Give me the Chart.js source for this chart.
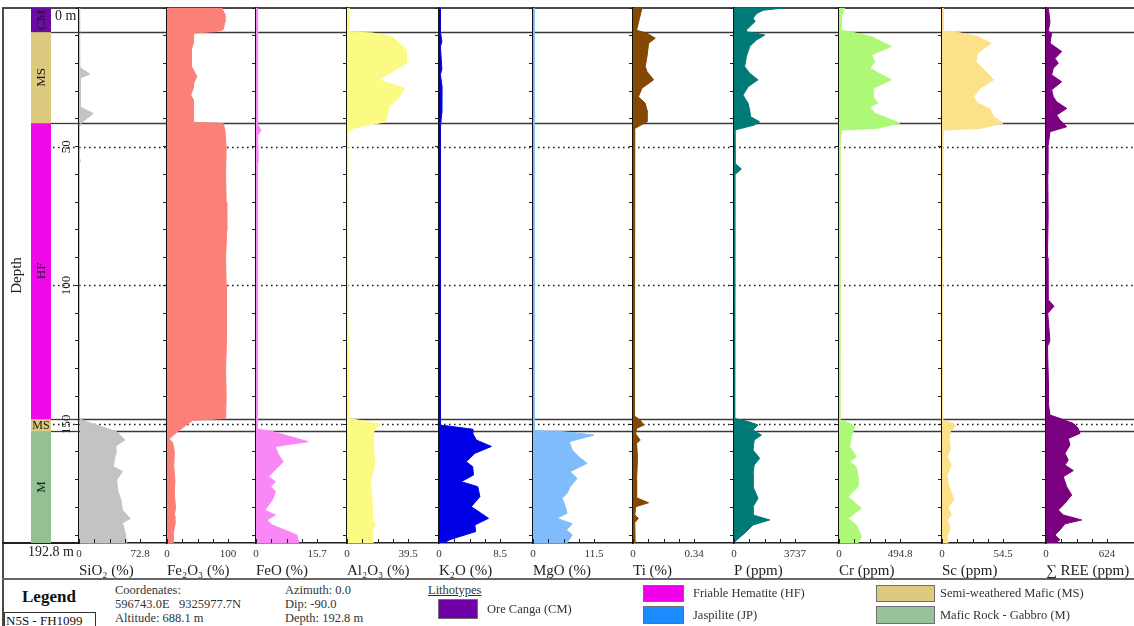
<!DOCTYPE html>
<html lang="en">
<head>
<meta charset="utf-8">
<title>N5S - FH1099</title>
<script src="https://cdn.jsdelivr.net/npm/chart.js@4.4.1/dist/chart.umd.min.js"></script>
<style>
  html, body { margin: 0; padding: 0; background: #fff; }
  #fig { position: relative; width: 1134px; height: 626px; overflow: hidden;
         font-family: "Liberation Serif", "DejaVu Serif", serif; color: #222; }
  #fig canvas { position: absolute; top: 0; }
  .rule { position: absolute; background: #4a4a4a; }
  .txt { position: absolute; white-space: nowrap; font-size: 12.5px; line-height: 14px; color: #333; }
  .sw { position: absolute; border: 1px solid #707070; box-sizing: border-box; }
</style>
</head>
<body>
<div id="fig">
  <div class="rule" style="left:2px;top:7px;width:1132px;height:2px;"></div>
  <div class="rule" style="left:2px;top:7px;width:2px;height:619px;"></div>
  <div class="rule" style="left:2px;top:542px;width:78px;height:2px;background:#222;"></div>
  <div class="rule" style="left:2px;top:578px;width:1132px;height:2px;background:#666;"></div>

  <div class="txt" style="left:22px;top:587px;font-size:17px;line-height:19px;font-weight:bold;color:#111;">Legend</div>
  <div class="txt" style="left:4px;top:612px;width:92px;height:17px;border:1px solid #333;box-sizing:border-box;font-size:13px;line-height:15px;padding-left:1px;color:#111;">N5S - FH1099</div>

  <div class="txt" style="left:115px;top:583px;">Coordenates:</div>
  <div class="txt" style="left:115px;top:597px;">596743.0E&nbsp;&nbsp;&nbsp;9325977.7N</div>
  <div class="txt" style="left:115px;top:611px;">Altitude: 688.1 m</div>
  <div class="txt" style="left:285px;top:583px;">Azimuth: 0.0</div>
  <div class="txt" style="left:285px;top:597px;">Dip: -90.0</div>
  <div class="txt" style="left:285px;top:611px;">Depth: 192.8 m</div>
  <div class="txt" style="left:428px;top:583px;text-decoration:underline;">Lithotypes</div>
</div>
<script>
// ---- depth log data (m) ----
const TOTAL_DEPTH = 192.8;
const LITHO_CODES = ['CM', 'MS', 'HF', 'MS', 'M'];
const LITHO_TOP   = [0, 8.6, 41.4, 148.1, 152.4];
const LITHO_BASE  = [8.6, 41.4, 148.1, 152.4, 192.8];
const DEPTH_MARKS = [50, 100, 150];

const VAR_TITLES = ['SiO₂ (%)', 'Fe₂O₃ (%)', 'FeO (%)', 'Al₂O₃ (%)', 'K₂O (%)', 'MgO (%)',
                    'Ti (%)', 'P (ppm)', 'Cr (ppm)', 'Sc (ppm)', '∑ REE (ppm)'];
const VAR_MAX = [72.8, 100, 15.7, 39.5, 8.5, 11.5, 0.34, 3737, 494.8, 54.5, 624];

const SIO2_DEPTH = [0, 8.6, 20, 21.6, 23.8, 25.2, 35.7, 38, 41.4, 43, 54, 55, 56, 60, 147.9, 149, 152.7, 155.7, 158, 160.5, 163, 165.3, 167, 170, 173.7, 177.3, 181, 184, 185.6, 189.2, 192.8];
const SIO2 = [0.3, 0.6, 1, 1.5, 13, 1.5, 1.5, 17, 2.5, 0.5, 0.3, 1.8, 0.3, 0.2, 0.2, 8, 45, 55, 43, 44, 42, 41, 52, 45, 46, 50, 52, 61, 52, 55, 57];

const FE2O3_DEPTH = [0, 2, 5, 7.8, 8.5, 9, 12.7, 15, 21, 24.7, 27, 28.9, 31.4, 33, 37, 41.2, 41.6, 44, 50, 60, 70, 80, 90, 100, 110, 120, 130, 140, 147.9, 148.6, 152.5, 155.3, 156.5, 160, 165, 170, 175, 180, 183, 186, 190, 192.8];
const FE2O3 = [90, 94, 95, 92, 80, 44, 43, 40, 40, 49, 44, 43, 39, 43, 43, 44, 92, 95, 97, 96, 97, 98, 96, 97, 98, 97, 96, 97, 96, 42, 18, 3, 9, 12, 11, 13, 12, 14, 12, 13, 10, 10];

const FEO_DEPTH = [0, 8.6, 20, 35, 42, 44, 46, 55, 57, 75, 100, 130, 151.7, 152.7, 156.3, 158, 161, 163.5, 165.9, 168.9, 170.7, 172.5, 174.3, 177.3, 181, 182.7, 184.5, 186.3, 189.9, 192.8];
const FEO = [0.4, 0.3, 0.4, 0.4, 0.5, 1.3, 0.4, 0.6, 0.3, 0.3, 0.3, 0.3, 0.3, 4.4, 13.5, 4.9, 5.8, 7, 5.3, 3.2, 5, 3.8, 5, 4.2, 2.3, 5, 2.8, 4.2, 10.5, 11];

const AL2O3_DEPTH = [0, 8.6, 9, 10.3, 12.1, 15.1, 19.9, 23.5, 25.9, 28.9, 32, 35.6, 38.6, 41, 43.4, 45, 100, 147.9, 150, 151.5, 152.7, 158, 164, 171.3, 177, 183.9, 186.3, 188.7, 192.8];
const AL2O3 = [1.2, 1.2, 16.6, 29.3, 32.5, 38.5, 38.5, 27.5, 20.7, 37.4, 34, 27.5, 26, 25, 3.5, 0.5, 0.4, 1.3, 21.6, 18.4, 17.4, 17, 18, 15.2, 16.2, 16.2, 18.4, 16.2, 17];

const K2O_DEPTH = [0, 8.6, 12, 14, 22, 24, 28, 33, 38, 43, 100, 150.3, 151.8, 153.3, 155.7, 158, 160.5, 163.5, 165.3, 168.3, 170.7, 172.5, 176.1, 179.7, 183.9, 186.3, 188.7, 191.6, 192.8];
const K2O = [0.2, 0.2, 0.4, 0.2, 0.4, 0.2, 0.4, 0.35, 0.4, 0.2, 0.15, 0.2, 4.7, 4.7, 5.2, 7.3, 5, 3.8, 4.7, 4.8, 3.1, 5.4, 5.7, 4.5, 6.9, 5, 5.1, 1.5, 0.7];

const MGO_DEPTH = [0, 100, 152.3, 152.7, 153.9, 156.3, 159.3, 161.7, 164.1, 167.1, 169.5, 172.5, 174.9, 176.7, 179.7, 182.1, 183.9, 185.9, 188.1, 189.9, 192.8];
const MGO = [0.2, 0.2, 0.2, 5.8, 11.5, 6.8, 7.4, 8.6, 10.2, 7, 8.3, 7, 6.4, 5.5, 6.1, 6.4, 4.5, 7.4, 6.3, 7.4, 6.4];

const TI_DEPTH = [0, 4, 8, 9.1, 10.9, 12.7, 17.5, 21.1, 22.9, 25.9, 28.9, 32, 34.3, 36.8, 41, 43.4, 100, 147, 148.5, 150.3, 151.5, 153.5, 155.7, 157, 162, 170, 176.5, 178.3, 179.7, 182.7, 183.9, 185.5, 192.8];
const TI = [0.05, 0.035, 0.02, 0.078, 0.124, 0.087, 0.078, 0.068, 0.078, 0.115, 0.05, 0.03, 0.068, 0.078, 0.078, 0.01, 0.008, 0.008, 0.04, 0.06, 0.02, 0.015, 0.04, 0.02, 0.025, 0.02, 0.02, 0.087, 0.015, 0.01, 0.03, 0.01, 0.012];

const P_DEPTH = [0, 0.8, 2, 3.7, 4.8, 6.1, 7.9, 8.6, 9.1, 9.7, 11.5, 13.9, 17.5, 21.1, 23.5, 25.9, 28.4, 31.4, 34.3, 36.8, 39.2, 41, 42.2, 44, 56, 58, 60, 100, 147.9, 149.2, 150.3, 152.1, 153.9, 155.7, 159.3, 162.3, 164.7, 167.7, 172.5, 176.7, 179.7, 182.7, 184.5, 186.3, 189.3, 192.3, 192.8];
const P = [3017, 1786, 1390, 1165, 1300, 1080, 760, 760, 1380, 1890, 1380, 960, 760, 650, 960, 1470, 860, 550, 860, 960, 1020, 1570, 1235, 40, 60, 450, 60, 50, 30, 960, 1470, 1165, 1680, 1235, 1165, 1575, 1235, 1165, 1165, 1470, 1165, 1165, 2190, 1165, 650, 50, 40];

const CR_DEPTH = [0, 3, 8, 8.8, 10.3, 13.9, 16.9, 19.3, 21.7, 25.9, 28.9, 32, 34.3, 35.6, 37.9, 41.5, 43.4, 44, 50, 100, 148, 148.5, 149.4, 150.8, 152.7, 154.5, 158.1, 159.9, 161.7, 163.5, 165.3, 168.9, 172.5, 176.1, 180.3, 183.9, 186.3, 190.5, 192.8];
const CR = [46, 19, 19, 114, 263, 425, 263, 290, 250, 425, 276, 276, 316, 250, 290, 494.8, 303, 20, 8, 6, 8, 11, 73, 127, 114, 100, 87, 114, 141, 87, 141, 154, 154, 73, 182, 73, 141, 182, 154];

const SC_DEPTH = [0, 8.3, 8.5, 10.3, 12.7, 16.3, 19.3, 25.9, 28.9, 32, 34.3, 36.2, 39.2, 41.5, 43.4, 44, 100, 148.5, 149.7, 150.8, 152.7, 155.7, 159.3, 161.7, 164.7, 168.3, 171.3, 177.3, 179.7, 182.7, 184.5, 187.4, 190.5, 192.8];
const SC = [1.5, 1, 10.6, 31.8, 43.9, 31.8, 30.3, 46.1, 34.2, 28.1, 31.8, 42.4, 46.1, 54.5, 34, 1, 0.4, 0.5, 10.6, 11.9, 7.4, 6.5, 7.4, 4.5, 8.3, 4.5, 5.4, 10.6, 5.4, 8.3, 4.5, 7.4, 4.5, 5.4];

const REE_DEPTH = [0, 5, 8.3, 9.1, 12.7, 15.7, 18.2, 19.9, 21.7, 24.1, 26.6, 29.5, 32, 33.8, 36.2, 38.6, 40.4, 42.8, 44.6, 50, 60, 75, 90, 105, 107.5, 110, 120, 122, 135, 142.5, 146.7, 147.9, 149.7, 151.5, 153.3, 155.1, 157.5, 160.5, 162.9, 164.7, 166.7, 168.9, 172.5, 175.5, 178.5, 180.9, 182.7, 184.5, 185.9, 188.1, 189.9, 191.6, 192.8];
const REE = [24, 41, 24, 58, 41, 160, 92, 126, 75, 58, 160, 58, 75, 109, 212, 109, 143, 212, 41, 20, 18, 22, 15, 20, 82, 18, 40, 15, 25, 24, 41, 143, 280, 330, 348, 228, 245, 194, 228, 194, 280, 177, 211, 263, 194, 126, 177, 365, 194, 143, 92, 143, 100];

const LEGEND_NAMES = ['Ore Canga (CM)', 'Friable Hematite (HF)', 'Jaspilite (JP)',
                      'Semi-weathered Mafic (MS)', 'Mafic Rock - Gabbro (M)'];

// ---- styling and layout ----
const FONT = '"Liberation Serif", "DejaVu Serif", serif';
const LITHO_COLORS = { CM: '#6c0aa8', MS: '#dccb7e', HF: '#ee0ae8', M: '#93c194' };
const LEGEND_COLORS = ['#6e00a6', '#f000e8', '#1a8cff', '#dccb7e', '#98c39a'];
const LEGEND_BOX = [[438, 599, 40, 20], [643, 585, 41, 17], [643, 606, 41, 18], [876, 585, 59, 17], [876, 606, 59, 18]];
const LEGEND_TEXT_AT = [[487, 602], [693, 586], [693, 608], [940, 586], [940, 608]];
const SERIES_COLORS = ['#c3c3c3', '#fb8078', '#f987f5', '#fbfb84', '#0000e6', '#80bcfb',
                       '#844800', '#007a76', '#adf977', '#fde189', '#7b007f'];
const PANEL_X = [79, 167, 256, 347, 439, 533, 633, 734, 839, 942, 1046, 1134];
const PLOT_TOP = 8, PLOT_BOTTOM = 543, CANVAS_H = 585, TICK_SPAN = 61;
const AXIS_BOX = 12;   // room left of each panel for the depth ticks (and label overhang)

const SERIES = [[SIO2_DEPTH, SIO2], [FE2O3_DEPTH, FE2O3], [FEO_DEPTH, FEO], [AL2O3_DEPTH, AL2O3],
                [K2O_DEPTH, K2O], [MGO_DEPTH, MGO], [TI_DEPTH, TI], [P_DEPTH, P],
                [CR_DEPTH, CR], [SC_DEPTH, SC], [REE_DEPTH, REE]];

const fig = document.getElementById('fig');

function makeCanvas(left, width) {
  const c = document.createElement('canvas');
  c.width = width; c.height = CANVAS_H;
  c.style.left = left + 'px';
  c.style.width = width + 'px';
  c.style.height = CANVAS_H + 'px';
  fig.appendChild(c);
  return c;
}

const BOUNDARIES = LITHO_BASE.slice(0, -1);

// contact lines (solid) and depth marks (dotted) between x0 and x1
function drawDepthLines(chart, x0, x1, dotStart) {
  const { ctx, scales: { y } } = chart;
  ctx.save();
  ctx.strokeStyle = '#3a3a3a';
  ctx.lineWidth = 1.3;
  BOUNDARIES.forEach(d => {
    const py = Math.round(y.getPixelForValue(d)) + 0.5;
    ctx.beginPath(); ctx.moveTo(x0, py); ctx.lineTo(x1, py); ctx.stroke();
  });
  ctx.strokeStyle = '#1e1e1e';
  ctx.lineWidth = 1.4;
  ctx.setLineDash([1.6, 3.4]);
  DEPTH_MARKS.forEach(d => {
    const py = Math.round(y.getPixelForValue(d)) + 0.5;
    ctx.beginPath(); ctx.moveTo(dotStart, py); ctx.lineTo(x1, py); ctx.stroke();
  });
  ctx.restore();
}

const panelLines = {
  id: 'panelLines',
  beforeDatasetsDraw(chart) {
    const a = chart.chartArea;
    drawDepthLines(chart, a.left, a.right, a.left);
  }
};

// small tick marks pointing into the plot along the value axis
const innerTicks = {
  id: 'innerTicks',
  afterDraw(chart) {
    const { ctx, scales: { x } } = chart;
    ctx.save();
    ctx.strokeStyle = '#222';
    ctx.lineWidth = 1;
    x.ticks.forEach(t => {
      const px = Math.round(x.getPixelForValue(t.value)) + 0.5;
      ctx.beginPath(); ctx.moveTo(px, x.top); ctx.lineTo(px, x.top - 4); ctx.stroke();
    });
    ctx.restore();
  }
};

function fmt(v) { return String(v); }

// one depth profile per variable
SERIES.forEach(([depths, values], i) => {
  const left = PANEL_X[i], width = PANEL_X[i + 1] - left;
  const canvas = makeCanvas(left - AXIS_BOX, width + AXIS_BOX);
  const max = VAR_MAX[i];
  new Chart(canvas, {
    type: 'line',
    data: {
      datasets: [{
        data: depths.map((d, k) => ({ x: values[k], y: d })),
        backgroundColor: SERIES_COLORS[i],
        borderColor: SERIES_COLORS[i],
        borderWidth: 1,
        pointRadius: 0,
        tension: 0,
        fill: 'origin'
      }]
    },
    options: {
      indexAxis: 'y',
      responsive: false,
      animation: false,
      events: [],
      layout: { padding: { top: PLOT_TOP, left: 0, right: 0, bottom: 0 } },
      plugins: { legend: { display: false }, tooltip: { enabled: false } },
      scales: {
        x: {
          type: 'linear', position: 'bottom',
          min: 0, max: max * width / TICK_SPAN,
          afterBuildTicks: s => { s.ticks = [0, 1, 2, 3, 4].map(k => ({ value: max * k / 4 })); },
          afterFit: s => { s.height = CANVAS_H - PLOT_BOTTOM; },
          grid: { display: true, drawOnChartArea: false, drawTicks: false },
          border: { display: true, color: '#1e1e1e', width: 1.5 },
          ticks: {
            autoSkip: false, maxRotation: 0, padding: 5,
            color: '#333', font: { family: FONT, size: 11 },
            callback: (v, k) => (k === 0 ? '0' : k === 4 ? fmt(max) : '')
          },
          title: {
            display: true, text: VAR_TITLES[i], align: 'start',
            color: '#222', font: { family: FONT, size: 15 },
            padding: { top: 0, bottom: 5 }
          }
        },
        y: {
          type: 'linear', reverse: true, min: 0, max: TOTAL_DEPTH,
          afterBuildTicks: s => {
            const t = [];
            for (let d = 0; d < TOTAL_DEPTH; d += 10) t.push({ value: d });
            s.ticks = t;
          },
          afterFit: s => { s.width = AXIS_BOX; },
          ticks: { display: false },
          grid: { drawOnChartArea: false, drawTicks: true, tickLength: 4, color: '#222' },
          border: { display: true, color: '#111', width: 1.5 }
        }
      }
    },
    plugins: [panelLines, innerTicks]
  });
});

// lithology column with depth labels
const lithoLabels = {
  id: 'lithoLabels',
  beforeDatasetsDraw(chart) {
    const a = chart.chartArea;
    drawDepthLines(chart, a.right, chart.width, a.right + 2);
  },
  afterDraw(chart) {
    const { ctx, chartArea: a, scales: { y } } = chart;
    ctx.save();
    ctx.fillStyle = '#1a1a1a';
    ctx.textAlign = 'center';
    ctx.textBaseline = 'middle';
    const cx = (a.left + a.right) / 2;
    LITHO_CODES.forEach((code, k) => {
      const y0 = y.getPixelForValue(LITHO_TOP[k]);
      const y1 = y.getPixelForValue(LITHO_BASE[k]);
      const cy = (y0 + y1) / 2;
      if (y1 - y0 < 18) {
        ctx.font = '12px ' + FONT;
        ctx.fillText(code, cx, cy + 0.5);
      } else {
        ctx.save();
        ctx.translate(cx + 0.5, cy);
        ctx.rotate(-Math.PI / 2);
        ctx.font = '13px ' + FONT;
        ctx.fillText(code, 0, 0);
        ctx.restore();
      }
    });
    ctx.fillStyle = '#222';
    ctx.font = '13px ' + FONT;
    DEPTH_MARKS.forEach(d => {
      ctx.save();
      ctx.translate(67, y.getPixelForValue(d));
      ctx.rotate(-Math.PI / 2);
      ctx.fillText(String(d), 0, 0);
      ctx.restore();
    });
    ctx.font = '14px ' + FONT;
    ctx.textAlign = 'left';
    ctx.textBaseline = 'top';
    ctx.fillText('0 m', 55, y.getPixelForValue(0) + 1);
    ctx.textAlign = 'right';
    ctx.textBaseline = 'middle';
    ctx.fillText(TOTAL_DEPTH + ' m', 74, y.getPixelForValue(TOTAL_DEPTH) + 9);
    ctx.save();
    ctx.translate(17, (a.top + a.bottom) / 2);
    ctx.rotate(-Math.PI / 2);
    ctx.textAlign = 'center';
    ctx.font = '15px ' + FONT;
    ctx.fillText('Depth', 0, 0);
    ctx.restore();
    ctx.restore();
  }
};

const lithoCanvas = makeCanvas(0, 80);
new Chart(lithoCanvas, {
  type: 'bar',
  data: {
    labels: ['Lithology'],
    datasets: LITHO_CODES.map((code, k) => ({
      label: code,
      data: [[LITHO_TOP[k], LITHO_BASE[k]]],
      backgroundColor: LITHO_COLORS[code],
      borderWidth: 0,
      grouped: false,
      barPercentage: 1,
      categoryPercentage: 1
    }))
  },
  options: {
    responsive: false,
    animation: false,
    events: [],
    layout: { padding: { left: 31, right: 29, top: PLOT_TOP, bottom: CANVAS_H - PLOT_BOTTOM } },
    plugins: { legend: { display: false }, tooltip: { enabled: false } },
    scales: {
      x: { display: false },
      y: { display: false, reverse: true, min: 0, max: TOTAL_DEPTH }
    }
  },
  plugins: [lithoLabels]
});

// lithotype key
LEGEND_NAMES.forEach((name, k) => {
  const [bx, by, bw, bh] = LEGEND_BOX[k];
  const sw = document.createElement('div');
  sw.className = 'sw';
  sw.style.cssText = `left:${bx}px;top:${by}px;width:${bw}px;height:${bh}px;background:${LEGEND_COLORS[k]};`;
  fig.appendChild(sw);
  const t = document.createElement('div');
  t.className = 'txt';
  t.style.left = LEGEND_TEXT_AT[k][0] + 'px';
  t.style.top = LEGEND_TEXT_AT[k][1] + 'px';
  t.textContent = name;
  fig.appendChild(t);
});
</script>
</body>
</html>
